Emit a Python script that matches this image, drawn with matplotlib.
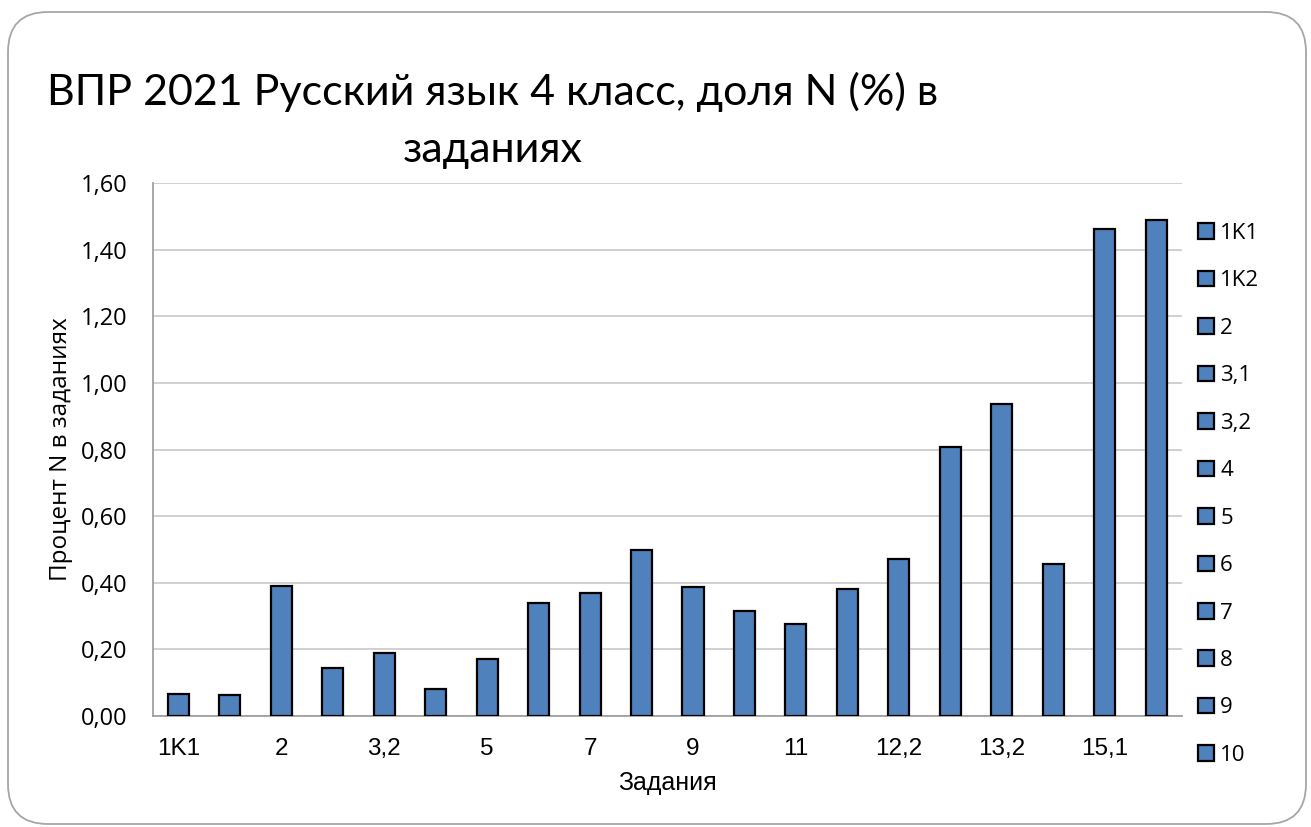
import matplotlib
matplotlib.use("Agg")
import matplotlib.pyplot as plt
from matplotlib.patches import FancyBboxPatch
from matplotlib.transforms import IdentityTransform

# данные
categories = ["1K1", "1K2", "2", "3,1", "3,2", "4", "5", "6", "7", "8",
              "9", "10", "11", "12,1", "12,2", "13,1", "13,2", "14", "15,1", "15,2"]
values = [0.066, 0.064, 0.389, 0.145, 0.190, 0.081, 0.172, 0.338, 0.368, 0.498,
          0.388, 0.316, 0.275, 0.380, 0.471, 0.808, 0.936, 0.455, 1.462, 1.488]
yticks = [0.0, 0.2, 0.4, 0.6, 0.8, 1.0, 1.2, 1.4, 1.6]
legend_shown = 12  # легенда обрезана на "10"

bar_color = "#4F81BD"

fig = plt.figure(figsize=(13.11, 8.27), dpi=100)

# рамка со скруглёнными углами
frame = FancyBboxPatch((8, 3), 1298, 812, boxstyle="round,pad=0,rounding_size=40",
                       transform=IdentityTransform(), facecolor="none",
                       edgecolor="#a6a6a6", linewidth=1.3)
fig.patches.append(frame)

ax = fig.add_axes([0.1165, 0.1342, 0.785, 0.6445])
x = list(range(len(categories)))
bars = ax.bar(x, values, width=0.41, color=bar_color, edgecolor="black", linewidth=1.6, zorder=3)

ax.set_xlim(-0.5, len(categories) - 0.5)
ax.set_ylim(0, 1.6)
ax.set_yticks(yticks)
ax.set_yticklabels([f"{v:.2f}".replace(".", ",") for v in yticks],
                   fontsize=17, family="Open Sans")
ax.set_xticks(x[::2])
ax.set_xticklabels(categories[::2], fontsize=17.5, family="Liberation Sans")
ax.tick_params(axis="x", length=0, pad=16)
ax.tick_params(axis="y", length=0, pad=18)
ax.grid(axis="y", color="#c8c8c8", linewidth=1.2, zorder=0)
for s in ["top", "right"]:
    ax.spines[s].set_visible(False)
for s in ["left", "bottom"]:
    ax.spines[s].set_color("#a0a0a0")
    ax.spines[s].set_linewidth(1.3)

ax.set_xlabel("Задания", fontsize=18, family="Liberation Sans", labelpad=8)
ax.set_ylabel("Процент N в заданиях", fontsize=17.5, family="Open Sans", labelpad=6)

fig.text(0.376, 0.913, "ВПР 2021 Русский язык 4 класс, доля N (%) в\nзаданиях",
         ha="center", va="top", fontsize=31, family="Lato", linespacing=1.62,
         multialignment="center")

leg = fig.legend(bars[:legend_shown], categories[:legend_shown], loc="upper left",
                 bbox_to_anchor=(1178 / 1311, 1 - 203 / 827), frameon=False,
                 handlelength=0.7, handleheight=0.7, handletextpad=0.3,
                 labelspacing=1.19, prop={"family": "Open Sans", "size": 16})

fig.savefig("out.png", dpi=100)
